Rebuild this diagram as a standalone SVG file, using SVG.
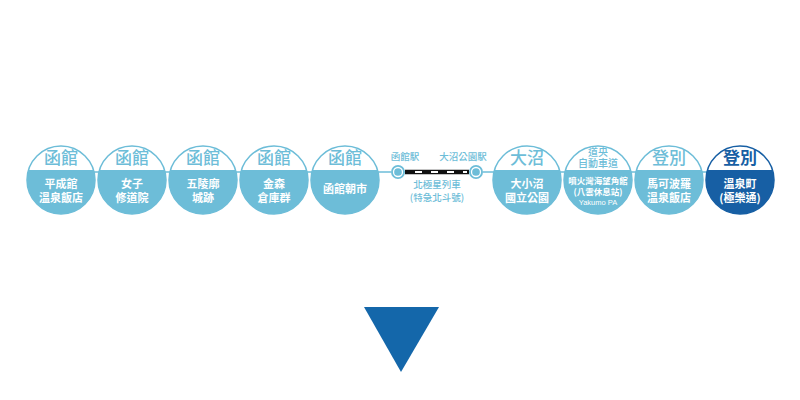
<svg xmlns="http://www.w3.org/2000/svg" width="800" height="400" viewBox="0 0 800 400">
<style>
text{font-family:"Noto Sans CJK TC","Noto Sans CJK JP",sans-serif;text-anchor:middle}
.ring{fill:#fff;stroke:#6dbdd8;stroke-width:1.5}
.low{fill:#6dbdd8}
.ttl{fill:#6dbdd8;font-size:17px;font-weight:500}
.sub{fill:#fff;font-size:11px;font-weight:bold}
.sm{fill:#6dbdd8;font-size:9.5px;font-weight:500}
.dk .ring{stroke:#175fa4}
.dk .low{fill:#175fa4}
.dk .ttl{fill:#175fa4;font-weight:bold}
</style>
<defs>
<clipPath id="bot"><rect x="0" y="170" width="800" height="60"/></clipPath>
</defs>
<rect width="800" height="400" fill="#fff"/>
<g id="connectors">
<line x1="61" y1="172" x2="391" y2="172" stroke="#6dbdd8" stroke-width="1.5"/>
<line x1="483" y1="172" x2="740" y2="172" stroke="#6dbdd8" stroke-width="1.5"/>
<line x1="405" y1="172" x2="469" y2="172" stroke="#111" stroke-width="4.5"/>
<line x1="407" y1="172" x2="467" y2="172" stroke="#fff" stroke-width="2" stroke-dasharray="7 9" stroke-dashoffset="-8"/>
</g>
<g id="n1"><circle class="ring" cx="61" cy="180" r="34"/><circle class="low" cx="61" cy="180" r="34" clip-path="url(#bot)"/>
<text class="ttl" x="61" y="164">函館</text><text class="sub" x="61" y="188">平成館</text><text class="sub" x="61" y="202">溫泉飯店</text></g>
<g id="n2"><circle class="ring" cx="132" cy="180" r="34"/><circle class="low" cx="132" cy="180" r="34" clip-path="url(#bot)"/>
<text class="ttl" x="132" y="164">函館</text><text class="sub" x="132" y="188">女子</text><text class="sub" x="132" y="202">修道院</text></g>
<g id="n3"><circle class="ring" cx="203" cy="180" r="34"/><circle class="low" cx="203" cy="180" r="34" clip-path="url(#bot)"/>
<text class="ttl" x="203" y="164">函館</text><text class="sub" x="203" y="188">五陵廓</text><text class="sub" x="203" y="202">城跡</text></g>
<g id="n4"><circle class="ring" cx="274" cy="180" r="34"/><circle class="low" cx="274" cy="180" r="34" clip-path="url(#bot)"/>
<text class="ttl" x="274" y="164">函館</text><text class="sub" x="274" y="188">金森</text><text class="sub" x="274" y="202">倉庫群</text></g>
<g id="n5"><circle class="ring" cx="345" cy="180" r="34"/><circle class="low" cx="345" cy="180" r="34" clip-path="url(#bot)"/>
<text class="ttl" x="345" y="164">函館</text><text class="sub" x="345" y="193">函館朝市</text></g>
<g id="s1"><circle cx="398" cy="172" r="7" fill="#6dbdd8"/><circle cx="398" cy="172" r="4.5" fill="none" stroke="#fff" stroke-width="1.3"/>
<text class="sm" x="405" y="160">函館駅</text></g>
<g id="s2"><circle cx="476" cy="172" r="7" fill="#6dbdd8"/><circle cx="476" cy="172" r="4.5" fill="none" stroke="#fff" stroke-width="1.3"/>
<text class="sm" x="463" y="160">大沼公園駅</text></g>
<g id="train"><text class="sm" x="437" y="188">北極星列車</text><text class="sm" x="437" y="201">(特急北斗號)</text></g>
<g id="n6"><circle class="ring" cx="527" cy="180" r="34"/><circle class="low" cx="527" cy="180" r="34" clip-path="url(#bot)"/>
<text class="ttl" x="527" y="164">大沼</text><text class="sub" x="527" y="188">大小沼</text><text class="sub" x="527" y="202">國立公園</text></g>
<g id="n7"><circle class="ring" cx="598" cy="180" r="34"/><circle class="low" cx="598" cy="180" r="34" clip-path="url(#bot)"/>
<text class="sm" x="598" y="156" style="font-size:10px">道央</text><text class="sm" x="598" y="167" style="font-size:10px">自動車道</text>
<text class="sub" x="598" y="184" style="font-size:8.5px">噴火灣海望角館</text><text class="sub" x="598" y="195" style="font-size:8.5px">(八雲休息站)</text>
<text x="598" y="205" style="fill:#fff;font-size:7.5px;font-family:'Liberation Sans',sans-serif">Yakumo PA</text></g>
<g id="n8"><circle class="ring" cx="669" cy="180" r="34"/><circle class="low" cx="669" cy="180" r="34" clip-path="url(#bot)"/>
<text class="ttl" x="669" y="164">登別</text><text class="sub" x="669" y="188">馬可波羅</text><text class="sub" x="669" y="202">溫泉飯店</text></g>
<g id="n9" class="dk"><circle class="ring" cx="740" cy="180" r="34"/><circle class="low" cx="740" cy="180" r="34" clip-path="url(#bot)"/>
<text class="ttl" x="740" y="164">登別</text><text class="sub" x="740" y="188">溫泉町</text><text class="sub" x="740" y="202">(極樂通)</text></g>
<polygon id="arrow" points="364,307 439,307 401,372" fill="#1467aa"/>
</svg>
